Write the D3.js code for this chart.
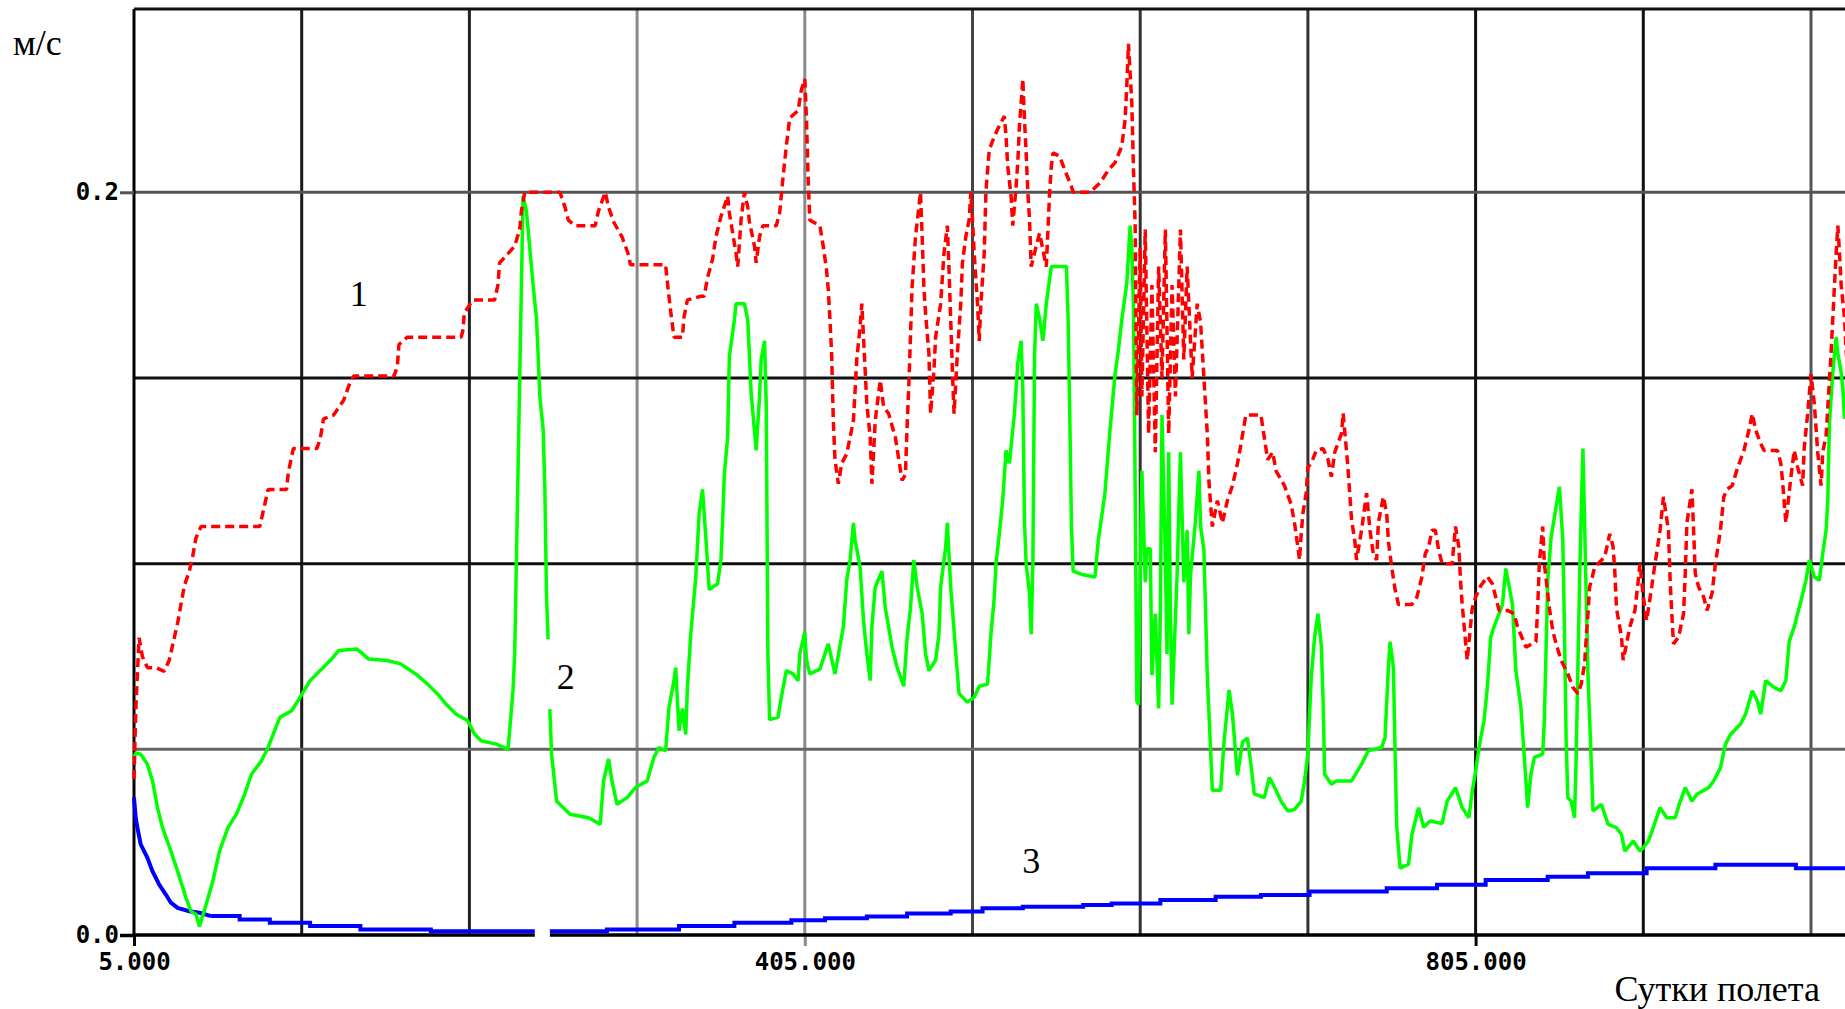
<!DOCTYPE html>
<html>
<head>
<meta charset="utf-8">
<script src="https://cdn.jsdelivr.net/npm/d3@7/dist/d3.min.js"></script>
<style>
  html, body { margin: 0; padding: 0; background: #fff; overflow: hidden; }
  svg { display: block; }
</style>
</head>
<body>
<div id="chart"></div>
<script>
// curve 1 (red, dashed)
const redDays = [5, 6, 8, 10, 13, 18, 23, 26, 29, 31, 33, 35, 38, 40, 42, 45, 80, 82, 85, 96, 97, 100, 114, 116, 118, 124, 130, 134, 136, 160, 162, 163, 168, 200, 201, 202, 207, 220, 222, 223, 232, 235, 236, 238, 259, 262, 264, 268, 280, 282, 286, 288, 291, 296, 300, 301, 322, 323, 325, 327, 332, 333, 335, 343,
  345, 347, 350, 352, 355, 359, 360, 364, 365, 367, 369, 371, 372, 375, 376, 378, 380, 388, 390, 392, 394, 396, 401, 403, 405, 406, 407, 408, 414, 416, 418, 419, 420, 421, 422, 423, 425, 427, 430, 432, 434, 435, 436, 438, 439, 440, 441, 442, 444, 445, 446, 447, 450, 452, 455, 459, 463, 465, 466, 467, 468, 469, 471, 474, 475, 476, 477, 479, 480, 482, 483, 486, 488, 490, 491, 492, 493, 494, 496, 498, 499, 501, 503, 504, 505, 506, 508, 509, 510, 512, 513, 514, 515, 518, 520, 524, 525, 526, 528, 529, 531, 532, 533, 534, 535, 536, 537, 538, 539, 540, 543, 545, 547, 549, 550, 551, 552, 553, 557, 560, 564, 565, 575, 581, 586, 590, 594, 596, 597, 598, 600,
  601, 602, 603, 605, 606, 608, 610, 612, 614, 616, 618, 620, 622, 624, 626, 629, 631, 633, 636, 639, 641, 643, 645, 646, 648, 651, 654, 657, 660, 663, 665, 668, 677, 679, 681, 684, 686, 691, 695, 697, 699, 700, 701, 702, 704, 705, 707, 710, 714, 717, 719, 721, 725, 726, 728, 729, 731, 733, 734, 737, 740, 742, 744, 746, 747, 750, 752, 753, 755, 757, 759, 767, 770, 773, 775, 777, 779, 781, 783, 785, 791, 793, 795, 796, 797, 798, 799, 800,
  803, 805, 808, 812, 815, 817, 819, 824, 828, 830, 835, 841, 842, 843, 845, 846, 849, 851, 853, 856, 860, 863, 866, 868, 870, 871, 872, 873, 876, 878, 882, 885, 887, 888, 889, 892, 893, 895, 897, 900, 902, 903, 905, 907, 910, 912, 915, 917, 920, 921, 922, 923, 926, 929, 930, 931, 934, 935, 936, 938, 941, 943, 946, 948, 951, 953, 955, 958, 961, 965, 968, 970, 972, 975, 977, 985, 987, 988, 990, 993, 995, 997, 1000, 1001, 1003, 1005, 1007, 1009, 1011, 1012, 1014, 1017, 1018, 1019, 1020, 1021, 1022, 1023, 1025, 1026, 1027];
const redVals = [0.042, 0.06, 0.08, 0.075, 0.072, 0.072, 0.071, 0.074, 0.08, 0.084, 0.089, 0.094, 0.098, 0.102, 0.107, 0.11, 0.11, 0.114, 0.12, 0.12, 0.1245, 0.131, 0.131, 0.1335, 0.139, 0.14, 0.144, 0.149, 0.1505, 0.1505, 0.153, 0.159, 0.161, 0.161, 0.1625, 0.1675, 0.171, 0.171, 0.175, 0.181, 0.1855, 0.19, 0.195, 0.2, 0.2, 0.196, 0.1925, 0.191, 0.191, 0.195, 0.2, 0.196, 0.192, 0.188, 0.183, 0.1805, 0.1805, 0.176, 0.168, 0.161, 0.161, 0.1665, 0.171, 0.172,
  0.172, 0.177, 0.182, 0.188, 0.1935, 0.199, 0.1945, 0.1835, 0.18, 0.1926, 0.2, 0.196, 0.192, 0.1855, 0.181, 0.188, 0.191, 0.191, 0.1945, 0.204, 0.2125, 0.22, 0.222, 0.2277, 0.2305, 0.2196, 0.2035, 0.1925, 0.191, 0.1855, 0.179, 0.1737, 0.1657, 0.1566, 0.1386, 0.128, 0.1215, 0.127, 0.1296, 0.134, 0.1386, 0.1467, 0.155, 0.164, 0.17, 0.161, 0.152, 0.143, 0.134, 0.1215, 0.1296, 0.1386, 0.1494, 0.1422, 0.1404, 0.134, 0.1224, 0.124, 0.137, 0.1476, 0.161, 0.1746, 0.188, 0.2, 0.188, 0.1746, 0.1675, 0.1566, 0.1404, 0.152, 0.161, 0.17, 0.1836, 0.191, 0.179, 0.1657, 0.152, 0.1404, 0.1566, 0.17, 0.181, 0.188, 0.1926, 0.2, 0.1926, 0.1836, 0.17, 0.16, 0.17, 0.1836, 0.2, 0.206, 0.2115, 0.215, 0.217, 0.2205, 0.215, 0.207, 0.199, 0.191, 0.2016, 0.208, 0.218, 0.224, 0.2305, 0.2196, 0.2106, 0.2, 0.1926, 0.18, 0.1855, 0.189, 0.1845, 0.18, 0.19, 0.2, 0.207, 0.2106, 0.2097, 0.206, 0.2016, 0.2, 0.2, 0.2025, 0.206, 0.208, 0.2124, 0.2196, 0.2286, 0.24, 0.224,
  0.206, 0.191, 0.14, 0.185, 0.145, 0.19, 0.135, 0.175, 0.13, 0.18, 0.15, 0.19, 0.135, 0.175, 0.145, 0.19, 0.155, 0.18, 0.15, 0.17, 0.165, 0.15, 0.135, 0.122, 0.11, 0.117, 0.111, 0.117, 0.121, 0.127, 0.132, 0.14, 0.14, 0.134, 0.128, 0.13, 0.125, 0.121, 0.116, 0.111, 0.1045, 0.101, 0.108, 0.1135, 0.119, 0.126, 0.127, 0.1305, 0.131, 0.128, 0.1234, 0.13, 0.135, 0.1405, 0.1305, 0.125, 0.112, 0.106, 0.101, 0.109, 0.119, 0.109, 0.1027, 0.101, 0.111, 0.118, 0.1135, 0.106, 0.099, 0.093, 0.089, 0.089, 0.091, 0.0965, 0.1027, 0.1045, 0.109, 0.109, 0.1036, 0.1, 0.1, 0.11, 0.1045, 0.0955, 0.089, 0.084, 0.079, 0.074,
  0.088, 0.091, 0.094, 0.0965, 0.0946, 0.091, 0.0874, 0.0874, 0.0865, 0.083, 0.0775, 0.079, 0.088, 0.1, 0.11, 0.1, 0.088, 0.082, 0.0784, 0.074, 0.0703, 0.0667, 0.065, 0.0676, 0.073, 0.0802, 0.0865, 0.0937, 0.099, 0.1, 0.1018, 0.108, 0.1045, 0.098, 0.088, 0.0802, 0.074, 0.0784, 0.083, 0.0874, 0.0955, 0.1, 0.091, 0.0847, 0.0937, 0.1, 0.109, 0.118, 0.109, 0.0955, 0.0865, 0.0784, 0.0802, 0.0865, 0.0973, 0.111, 0.12, 0.109, 0.0973, 0.0937, 0.091, 0.0874, 0.092, 0.1, 0.109, 0.118, 0.12, 0.121, 0.1255, 0.1305, 0.136, 0.1404, 0.136, 0.1323, 0.1305, 0.1305, 0.127, 0.1224, 0.111, 0.1233, 0.1305, 0.126, 0.121, 0.1314, 0.1404, 0.151, 0.143, 0.13, 0.121, 0.13, 0.1345, 0.157, 0.166, 0.175, 0.1836, 0.191, 0.1836, 0.175, 0.166, 0.157, 0.152];

// curve 2 (green)
const greenDays = [5, 6, 9, 13, 16, 19, 22, 27, 31, 36, 39, 42, 44, 48, 52, 56, 61, 66, 71, 75, 81, 85, 88, 92, 99, 104, 110, 116, 122, 127, 138, 145, 156, 164, 173, 180, 186, 191, 197, 204, 208, 212, 221, 228, 229, 231, 232, 233, 235, 237, 239, 241, 243, 245, 246, 247, 249, 250, 251, 252, 253, 254, 257, 265, 276, 283, 285, 288, 290, 293, 299, 304, 311, 315, 318, 322, 324, 327, 328, 330, 332, 334, 335, 337, 340, 342, 344, 346, 348, 353, 355, 356, 357, 359, 360, 363, 364, 369, 371, 372, 373, 376, 378, 379, 381, 382, 383, 384, 389, 391, 394, 398, 401, 402, 405, 406, 408, 414, 419, 423, 426, 428, 430, 432, 434, 435, 438, 440, 442, 444, 445, 447, 451, 453, 455, 457, 460, 464, 466, 468, 470, 472, 475, 477, 479, 483, 485, 486, 489, 490, 492, 494, 496, 497, 502, 506, 509, 514, 516, 518, 519, 521, 523, 525, 527, 530, 532, 534, 535, 536, 537, 539, 540, 541, 542, 543, 545, 547, 549, 552, 556, 561, 562, 563, 564, 565, 571, 578, 580, 582, 584, 585, 587, 590, 592, 594, 597, 599, 600,
  601, 602, 603, 604, 605, 606, 608, 609, 611, 612, 614, 616, 617, 618, 620, 621, 622, 623, 624, 627, 629, 631, 633, 634, 635, 638, 640, 641, 643, 645, 647, 648, 653, 655, 658, 660, 663, 666, 669, 671, 673, 679, 682, 686, 689, 693, 697, 701, 703, 705, 706, 707, 709, 711, 713, 714, 715, 719, 722, 731, 737, 741, 749, 751, 753, 754, 756, 757, 758, 760, 765, 767, 771, 774, 778, 785, 788, 793, 797, 801, 803, 805, 807, 810, 812, 814, 816, 821, 823, 827, 829, 832, 835, 836, 838, 840, 845, 846, 848, 850, 852, 855, 857, 858, 859, 860, 862, 864, 865, 867, 868, 869, 872, 874, 875, 880, 884, 889, 892, 894, 899, 903, 905, 908, 911, 915, 919, 924, 927, 930, 934, 937, 944, 947, 951, 954, 957, 963, 966, 970, 973, 975, 978, 983, 987, 990, 992, 995, 999, 1002, 1004, 1007, 1010, 1012, 1014, 1015, 1016, 1018, 1020, 1021, 1023, 1024, 1025];
const greenVals = [0.0478, 0.049, 0.0487, 0.046, 0.0415, 0.0343, 0.0289, 0.0226, 0.0172, 0.01, 0.0064, 0.0055, 0.0023, 0.0082, 0.0145, 0.0226, 0.0289, 0.0325, 0.0379, 0.0433, 0.0469, 0.0505, 0.0541, 0.0586, 0.0604, 0.064, 0.0685, 0.0712, 0.0739, 0.0766, 0.077, 0.0743, 0.0739, 0.073, 0.0703, 0.0676, 0.0649, 0.0622, 0.0595, 0.0577, 0.0541, 0.0523, 0.0514, 0.05, 0.055, 0.0658, 0.0757, 0.1, 0.15, 0.199, 0.195, 0.185, 0.175, 0.166, 0.156, 0.145, 0.136, 0.12, 0.091, 0.0784, 0.0604, 0.0487, 0.036, 0.0325, 0.0316, 0.0298, 0.0415, 0.0474, 0.0415, 0.0352, 0.037, 0.0397, 0.0415, 0.0478, 0.0505, 0.0496, 0.0613, 0.0685, 0.072, 0.055, 0.061, 0.054, 0.0667, 0.081, 0.0964, 0.1135, 0.12, 0.107, 0.093, 0.0946, 0.101, 0.1117, 0.124, 0.134, 0.1557, 0.1656, 0.17, 0.17, 0.1656, 0.1557, 0.146, 0.1305, 0.145, 0.155, 0.16, 0.143, 0.0757, 0.058, 0.0586, 0.064, 0.0712, 0.0703, 0.0685, 0.0757, 0.0816, 0.074, 0.0703, 0.0716, 0.0784, 0.0703, 0.078, 0.083, 0.0955, 0.101, 0.111, 0.1063, 0.099, 0.0847, 0.0757, 0.0685, 0.083, 0.0937, 0.098, 0.088, 0.083, 0.0775, 0.0721, 0.067, 0.08, 0.088, 0.101, 0.0937, 0.0865, 0.0757, 0.0712, 0.074, 0.081, 0.0937, 0.1045, 0.111, 0.0937, 0.082, 0.0703, 0.065, 0.0627, 0.064, 0.067, 0.0676, 0.081, 0.091, 0.1, 0.108, 0.117, 0.1305, 0.127, 0.1404, 0.154, 0.16, 0.147, 0.111, 0.1, 0.092, 0.081, 0.1, 0.1557, 0.17, 0.166, 0.16, 0.17, 0.18, 0.18, 0.18, 0.1665, 0.14, 0.11, 0.098, 0.097, 0.0964, 0.1063, 0.1126, 0.119, 0.125, 0.136, 0.151, 0.1575, 0.1656, 0.1755, 0.191, 0.1845,
  0.169, 0.12, 0.063, 0.062, 0.097, 0.125, 0.095, 0.104, 0.104, 0.07, 0.0865, 0.061, 0.0865, 0.14, 0.1018, 0.0757, 0.13, 0.087, 0.062, 0.097, 0.13, 0.095, 0.109, 0.081, 0.097, 0.1117, 0.125, 0.11, 0.1036, 0.07, 0.0496, 0.039, 0.039, 0.052, 0.066, 0.0595, 0.043, 0.052, 0.053, 0.046, 0.038, 0.037, 0.0424, 0.039, 0.036, 0.0334, 0.0338, 0.036, 0.0415, 0.0487, 0.0595, 0.0694, 0.0802, 0.0865, 0.078, 0.064, 0.0433, 0.0406, 0.0415, 0.0415, 0.046, 0.0496, 0.0505, 0.0532, 0.072, 0.079, 0.072, 0.0487, 0.029, 0.018, 0.019, 0.027, 0.0343, 0.029, 0.0307, 0.03, 0.036, 0.0397, 0.0343, 0.0316, 0.0388, 0.044, 0.0505, 0.0577, 0.0667, 0.0802, 0.083, 0.089, 0.0987, 0.089, 0.0712, 0.0613, 0.0415, 0.0343, 0.0433, 0.0478, 0.0487, 0.0577, 0.0955, 0.107, 0.1126, 0.1207, 0.1063, 0.082, 0.0523, 0.037, 0.036, 0.0316, 0.0487, 0.0955, 0.114, 0.131, 0.0703, 0.046, 0.0334, 0.0352, 0.0298, 0.0289, 0.0271, 0.0226, 0.0253, 0.0226, 0.0235, 0.0253, 0.029, 0.0343, 0.0316, 0.0316, 0.036, 0.0397, 0.036, 0.0379, 0.0397, 0.0415, 0.045, 0.0514, 0.054, 0.0568, 0.0595, 0.0658, 0.063, 0.0595, 0.0685, 0.0667, 0.0658, 0.0685, 0.079, 0.083, 0.09, 0.0955, 0.101, 0.0964, 0.0955, 0.1027, 0.109, 0.117, 0.138, 0.1515, 0.161, 0.1566, 0.1515, 0.147, 0.139];

// curve 3 (blue): smooth decay, then stepped
const blueDays = [5, 6, 7, 9, 13, 16, 20, 24, 27, 31, 38, 44, 51, 68, 86, 110, 140, 182, 287, 330, 363, 397, 417, 442, 466, 492, 511, 535, 571, 588, 617, 650, 677, 706, 752, 782, 811, 848, 872, 907, 948, 996, 1027];
const blueVals = [0.037, 0.0316, 0.029, 0.0244, 0.0208, 0.0172, 0.0136, 0.0109, 0.0087, 0.0073, 0.0064, 0.006, 0.0051, 0.0042, 0.0033, 0.0024, 0.0015, 0.001, 0.0015, 0.0024, 0.0033, 0.004, 0.0045, 0.005, 0.0058, 0.0063, 0.0072, 0.0076, 0.0081, 0.0085, 0.0094, 0.0103, 0.0108, 0.0117, 0.0126, 0.0135, 0.0148, 0.0157, 0.0166, 0.018, 0.0189, 0.018, 0.018];
const blueStepFrom = 51;

const xGridDays = [105, 205, 305, 405, 505, 605, 705, 805, 905, 1005];
const yGridVals = [0.05, 0.1, 0.15, 0.2];
const xTickDays = [5, 405, 805];
const yTickVals = [0, 0.2];

const W = 1845, H = 1009;
const frame = { top: 9, left: 134, axisY: 935, right: W };

// the scan shades its grid lines unevenly
const xGridColor = ["#1a1a1a", "#222", "#8a8a8a", "#8a8a8a", "#444", "#333", "#333", "#111", "#111", "#555"];
const yGridColor = ["#666", "#111", "#111", "#555"];

const x = d3.scaleLinear().domain([5, 1005]).range([frame.left, 1811]);
const y = d3.scaleLinear().domain([0, 0.2]).range([frame.axisY, 192.3]);

const svg = d3.select("#chart").append("svg")
  .attr("width", W)
  .attr("height", H)
  .style("background", "#fff");

// grid
svg.append("g").selectAll("line")
  .data(xGridDays)
  .enter().append("line")
  .attr("x1", d => x(d)).attr("x2", d => x(d))
  .attr("y1", frame.top).attr("y2", frame.axisY)
  .attr("stroke", (d, i) => xGridColor[i])
  .attr("stroke-width", 3);

svg.append("g").selectAll("line")
  .data(yGridVals)
  .enter().append("line")
  .attr("x1", frame.left).attr("x2", frame.right)
  .attr("y1", d => y(d)).attr("y2", d => y(d))
  .attr("stroke", (d, i) => yGridColor[i])
  .attr("stroke-width", 3);

// frame: top and left edges
svg.append("line")
  .attr("x1", frame.left).attr("x2", frame.right)
  .attr("y1", frame.top).attr("y2", frame.top)
  .attr("stroke", "#111").attr("stroke-width", 3);
svg.append("line")
  .attr("x1", frame.left).attr("x2", frame.left)
  .attr("y1", frame.top).attr("y2", frame.axisY)
  .attr("stroke", "#000").attr("stroke-width", 3);

// axes
const tickFont = "'DejaVu Sans Mono', monospace";

const xAxis = svg.append("g")
  .attr("transform", `translate(0,${frame.axisY})`)
  .call(d3.axisBottom(x).tickValues(xTickDays).tickFormat(d3.format(".3f")).tickSize(11).tickPadding(7));
xAxis.select(".domain").remove();
xAxis.selectAll(".tick line")
  .attr("stroke", d => d === 405 ? "#8a8a8a" : "#000")
  .attr("stroke-width", 3);
xAxis.selectAll("text")
  .attr("fill", "#000")
  .style("font-family", tickFont)
  .style("font-weight", "bold")
  .style("font-size", "24px");

const yAxis = svg.append("g")
  .attr("transform", `translate(${frame.left},0)`)
  .call(d3.axisLeft(y).tickValues(yTickVals).tickFormat(d3.format(".1f")).tickSize(14).tickPadding(1));
yAxis.select(".domain").remove();
yAxis.selectAll(".tick line")
  .attr("stroke", d => d === 0 ? "#000" : "#555")
  .attr("stroke-width", d => d === 0 ? 3.5 : 3);
yAxis.selectAll("text")
  .attr("fill", "#000")
  .style("font-family", tickFont)
  .style("font-weight", "bold")
  .style("font-size", "24px");

// bottom axis line
svg.append("line")
  .attr("x1", frame.left).attr("x2", frame.right)
  .attr("y1", frame.axisY).attr("y2", frame.axisY)
  .attr("stroke", "#000").attr("stroke-width", 3.5);

// series
const zip = (days, vals) => days.map((d, i) => [d, vals[i]]);

const line = d3.line().x(d => x(d[0])).y(d => y(d[1]));
const stepLine = d3.line().x(d => x(d[0])).y(d => y(d[1])).curve(d3.curveStepAfter);

const blue = zip(blueDays, blueVals);
const blueSplit = blueDays.indexOf(blueStepFrom);
[[blue.slice(0, blueSplit + 1), line], [blue.slice(blueSplit), stepLine]].forEach(([pts, gen]) => {
  svg.append("path")
    .datum(pts)
    .attr("d", gen)
    .attr("fill", "none")
    .attr("stroke", "#0000ff")
    .attr("stroke-width", 4);
});

svg.append("path")
  .datum(zip(greenDays, greenVals))
  .attr("d", line)
  .attr("fill", "none")
  .attr("stroke", "#00ff00")
  .attr("stroke-width", 3.5)
  .attr("stroke-linejoin", "bevel");

svg.append("path")
  .datum(zip(redDays, redVals))
  .attr("d", line)
  .attr("fill", "none")
  .attr("stroke", "#ff0000")
  .attr("stroke-width", 3.5)
  .attr("stroke-linejoin", "bevel")
  .attr("stroke-dasharray", "9 5");

// white gap left in the scan
svg.append("rect")
  .attr("x", x(244)).attr("width", x(253) - x(244))
  .attr("y", frame.axisY - 11).attr("height", 16)
  .attr("fill", "#fff");

// curve numbers
const serif = "'Liberation Serif', 'Times New Roman', serif";
const numbers = svg.append("g")
  .style("font-family", serif)
  .style("font-size", "36px")
  .attr("fill", "#000")
  .attr("text-anchor", "middle");

numbers.append("text").attr("x", x(139)).attr("y", y(0.1694)).text("1");
const label2 = numbers.append("text").attr("x", x(262.5)).attr("y", y(0.0662)).text("2");
numbers.append("text").attr("x", x(540)).attr("y", y(0.0167)).text("3");

// label 2 sits on a white box that cuts the green line
const b = label2.node().getBBox();
numbers.insert("rect", "text:nth-child(2)")
  .attr("x", b.x - 22).attr("y", b.y - 18)
  .attr("width", b.width + 32).attr("height", b.height + 30)
  .attr("fill", "#fff");

// axis titles
svg.append("text")
  .attr("x", 13).attr("y", 55)
  .style("font-family", serif)
  .style("font-size", "36px")
  .text("м/с");

svg.append("text")
  .attr("x", 1820).attr("y", 1001)
  .attr("text-anchor", "end")
  .style("font-family", serif)
  .style("font-size", "36px")
  .text("Сутки полета");
</script>
</body>
</html>
